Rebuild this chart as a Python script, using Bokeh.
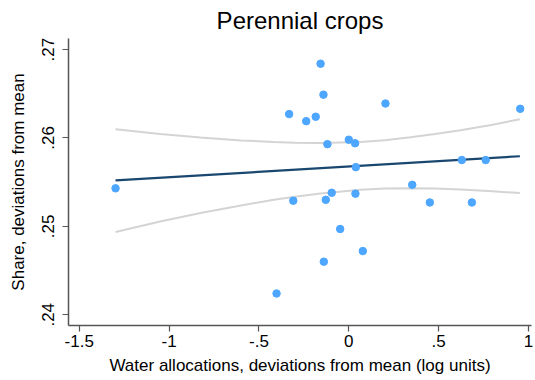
from bokeh.plotting import figure
from bokeh.models import FixedTicker, CustomJSTickFormatter, Range1d
from bokeh.embed import file_html
from bokeh.resources import INLINE

# Scatter data
water_dev = [-1.298, -0.402, -0.332, -0.309, -0.237, -0.184, -0.157, -0.141,
             -0.139, -0.128, -0.119, -0.095, -0.048, 0.000, 0.035, 0.037,
             0.039, 0.078, 0.204, 0.353, 0.451, 0.629, 0.685, 0.762, 0.954]
share_dev = [0.2543, 0.2424, 0.2627, 0.2529, 0.2619, 0.2624, 0.2684, 0.2649,
             0.2460, 0.2530, 0.2593, 0.2538, 0.2497, 0.2598, 0.2594, 0.2537,
             0.2567, 0.2472, 0.2639, 0.2547, 0.2527, 0.2575, 0.2527, 0.2575, 0.2633]

# Fitted line and 95% confidence band
fit_x = [-1.298, 0.952]
fit_y = [0.25519, 0.25793]
ci_x = [-1.298, -1.05, -0.825, -0.6, -0.417, -0.3, -0.157, 0.065, 0.2,
        0.343, 0.48, 0.622, 0.8, 0.952]
ci_upper = [0.26098, 0.26044, 0.26006, 0.25972, 0.25955, 0.25945, 0.25944,
            0.25955, 0.25975, 0.26007, 0.26044, 0.26086, 0.26150, 0.26212]
ci_lower = [0.24936, 0.25054, 0.25150, 0.25236, 0.25302, 0.25336, 0.25372,
            0.25414, 0.25427, 0.25430, 0.25428, 0.25418, 0.25397, 0.25376]

x_ticks = [-1.5, -1, -0.5, 0, 0.5, 1]
y_ticks = [0.24, 0.25, 0.26, 0.27]

FONT = "Liberation Sans"
p = figure(width=535, height=380, output_backend="svg", toolbar_location=None,
           x_range=Range1d(-1.5598, 1.0167), y_range=Range1d(0.238781, 0.271253),
           title="Perennial crops")
p.min_border_left = 68
p.min_border_right = 4
p.min_border_bottom = 55
p.min_border_top = 37
p.outline_line_color = None
p.grid.visible = False
p.background_fill_color = "white"
p.border_fill_color = "white"

p.title.align = "center"
p.title.text_font = FONT
p.title.text_font_size = "24px"
p.title.text_font_style = "normal"
p.title.text_color = "black"
p.title.standoff = 9

p.line(ci_x, ci_upper, line_color="#d4d4d4", line_width=2)
p.line(ci_x, ci_lower, line_color="#d4d4d4", line_width=2)
p.line(fit_x, fit_y, line_color="#1a476f", line_width=2.2)
p.scatter(water_dev, share_dev, size=7.5, fill_color="#4da6ff", line_color="#4da6ff")

fmt = CustomJSTickFormatter(code="""
let s = String(Math.round(tick*100)/100);
return s.replace(/^(-?)0\\./, '$1.');
""")
p.xaxis.ticker = FixedTicker(ticks=x_ticks)
p.yaxis.ticker = FixedTicker(ticks=y_ticks)
for ax in (p.xaxis[0], p.yaxis[0]):
    ax.formatter = fmt
    ax.axis_line_color = "#555555"
    ax.axis_line_width = 1.5
    ax.major_tick_line_color = "#555555"
    ax.major_tick_line_width = 1.2
    ax.major_tick_out = 6
    ax.major_tick_in = 0
    ax.minor_tick_line_color = None
    ax.major_label_text_font = FONT
    ax.major_label_text_font_size = "17px"
    ax.major_label_text_color = "black"
    ax.axis_label_text_font = FONT
    ax.axis_label_text_font_style = "normal"
    ax.axis_label_text_color = "black"
p.xaxis.axis_label = "Water allocations, deviations from mean (log units)"
p.yaxis.axis_label = "Share, deviations from mean"
p.xaxis.axis_label_text_font_size = "17px"
p.yaxis.axis_label_text_font_size = "17px"
p.yaxis.major_label_orientation = "vertical"
p.xaxis.major_label_standoff = 3
p.yaxis.major_label_standoff = 8
p.xaxis.axis_label_standoff = 6
p.yaxis.axis_label_standoff = 12

open("out.html", "w").write(file_html(p, INLINE))
